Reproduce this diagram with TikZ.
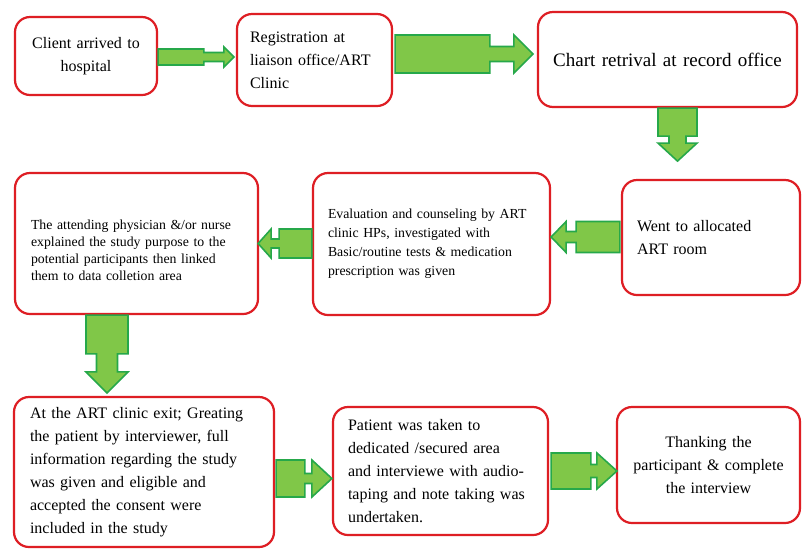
\documentclass[tikz,border=0pt]{standalone}
\usepackage{fontspec}
\setmainfont{Liberation Serif}
\usetikzlibrary{calc}
\definecolor{boxred}{RGB}{222,30,36}
\definecolor{arrfill}{RGB}{128,199,72}
\definecolor{arrdraw}{RGB}{38,168,74}
\tikzset{
  flowbox/.style={draw=boxred, line width=2.2pt, rounded corners=15pt, fill=white,
    inner xsep=15pt, inner ysep=2pt, anchor=center},
  mainfont/.style={font=\fontsize{16}{23}\selectfont},
  fatarrow/.style={fill=arrfill, draw=arrdraw, line width=1.6pt, line join=miter},
}
% horizontal fat arrow: #1 start, #2 tip, #3 body half, #4 neck half, #5 head half,
% #6 head length, #7 neck length, #8 direction (1 right, -1 left)
\newcommand{\hfat}[8]{%
  \path[fatarrow] let \p1=(#1), \p2=(#2) in
   (\x1,\y1+#3) -- ({\x2-#8*(#6+#7)},\y1+#3) -- ({\x2-#8*(#6+#7)},\y1+#4)
   -- ({\x2-#8*#6},\y1+#4) -- ({\x2-#8*#6},\y1+#5) -- (\x2,\y1)
   -- ({\x2-#8*#6},\y1-#5) -- ({\x2-#8*#6},\y1-#4) -- ({\x2-#8*(#6+#7)},\y1-#4)
   -- ({\x2-#8*(#6+#7)},\y1-#3) -- (\x1,\y1-#3) -- cycle;}
% downward fat arrow
\newcommand{\vfat}[7]{%
  \path[fatarrow] let \p1=(#1), \p2=(#2) in
   (\x1+#3,\y1) -- (\x1+#3,{\y2+#6+#7}) -- (\x1+#4,{\y2+#6+#7})
   -- (\x1+#4,{\y2+#6}) -- (\x1+#5,{\y2+#6}) -- (\x1,\y2)
   -- (\x1-#5,{\y2+#6}) -- (\x1-#4,{\y2+#6}) -- (\x1-#4,{\y2+#6+#7})
   -- (\x1-#3,{\y2+#6+#7}) -- (\x1-#3,\y1) -- cycle;}
\begin{document}
\begin{tikzpicture}[x=1pt,y=-1pt]
\useasboundingbox[fill=white] (0,0) rectangle (810,558);

\node[flowbox, mainfont, minimum width=142pt, minimum height=78pt, text width=130pt, inner xsep=6pt, align=center]
  (A) at (86,56) {Client arrived to\\hospital};
\node[flowbox, mainfont, minimum width=155pt, minimum height=92pt, text width=129pt, inner xsep=13pt, align=left]
  (B) at (314.5,60) {Registration at\\liaison office/ART\\Clinic};
\node[flowbox, font=\fontsize{19}{23}\selectfont, minimum width=259pt, minimum height=95pt, text width=247pt, inner xsep=6pt, align=center]
  (C) at (667.5,59.5) {Chart retrival at record office};
\node[flowbox, mainfont, minimum width=178pt, minimum height=115pt, text width=148pt, align=left]
  (D) at (711,237.5) {Went to allocated\\ART room};
\node[flowbox, font=\fontsize{13.8}{19}\selectfont, minimum width=237pt, minimum height=142pt, text width=207pt, align=left]
  (E) at (431.5,244) {Evaluation and counseling by ART\\clinic HPs, investigated with\\Basic/routine tests \& medication\\prescription was given};
\node[flowbox, font=\fontsize{13.8}{17}\selectfont, minimum width=243pt, minimum height=141pt, text width=211pt, inner xsep=16pt, align=left]
  (F) at (136.5,243.5) {\rule{0pt}{24pt}The attending physician \&/or nurse\\explained the study purpose to the\\potential participants then linked\\them to data colletion area};
\node[flowbox, mainfont, minimum width=260pt, minimum height=150pt, text width=228pt, inner xsep=16pt, align=left]
  (G) at (144,472) {At the ART clinic exit; Greating\\the patient by interviewer, full\\information regarding the study\\was given and eligible and\\accepted the consent were\\included in the study};
\node[flowbox, mainfont, minimum width=215pt, minimum height=128pt, text width=185pt, align=left]
  (H) at (440.5,471) {Patient was taken to\\dedicated /secured area\\and interviewe with audio-\\taping and note taking was\\undertaken.};
\node[flowbox, mainfont, minimum width=183pt, minimum height=116pt, text width=171pt, inner xsep=6pt, align=center]
  (I) at (708.5,465) {Thanking the\\participant \& complete\\the interview};

\hfat{$(A.east)+(0,1)$}{$(B.west)+(-2,0)$}{8pt}{4.5pt}{10pt}{10pt}{20pt}{1}
\hfat{$(B.east)+(2,-6)$}{$(C.west)+(-4,0)$}{19pt}{7.5pt}{19pt}{19pt}{24pt}{1}
\vfat{$(C.south)+(10,0)$}{$(C.south)+(10,53)$}{19.5pt}{8.5pt}{19.5pt}{18pt}{7pt}
\hfat{$(D.west)+(-1,-0.5)$}{$(E.east)+(0,0)$}{15.5pt}{5.5pt}{15.5pt}{15pt}{10pt}{-1}
\hfat{$(E.west)+(0,-0.5)$}{$(F.east)+(-1,0)$}{14.5pt}{4.5pt}{14.5pt}{13pt}{8pt}{-1}
\vfat{$(F.south)+(-29.5,0)$}{$(G.north)+(-37,-3)$}{21pt}{10.5pt}{21pt}{21pt}{18pt}
\hfat{$(G.east)+(1,6.5)$}{$(H.west)$}{18.5pt}{5pt}{18.5pt}{20pt}{7pt}{1}
\hfat{$(H.east)+(2,0)$}{$(I.west)+(1,0)$}{18pt}{6.5pt}{18pt}{20pt}{6pt}{1}
\end{tikzpicture}
\end{document}
